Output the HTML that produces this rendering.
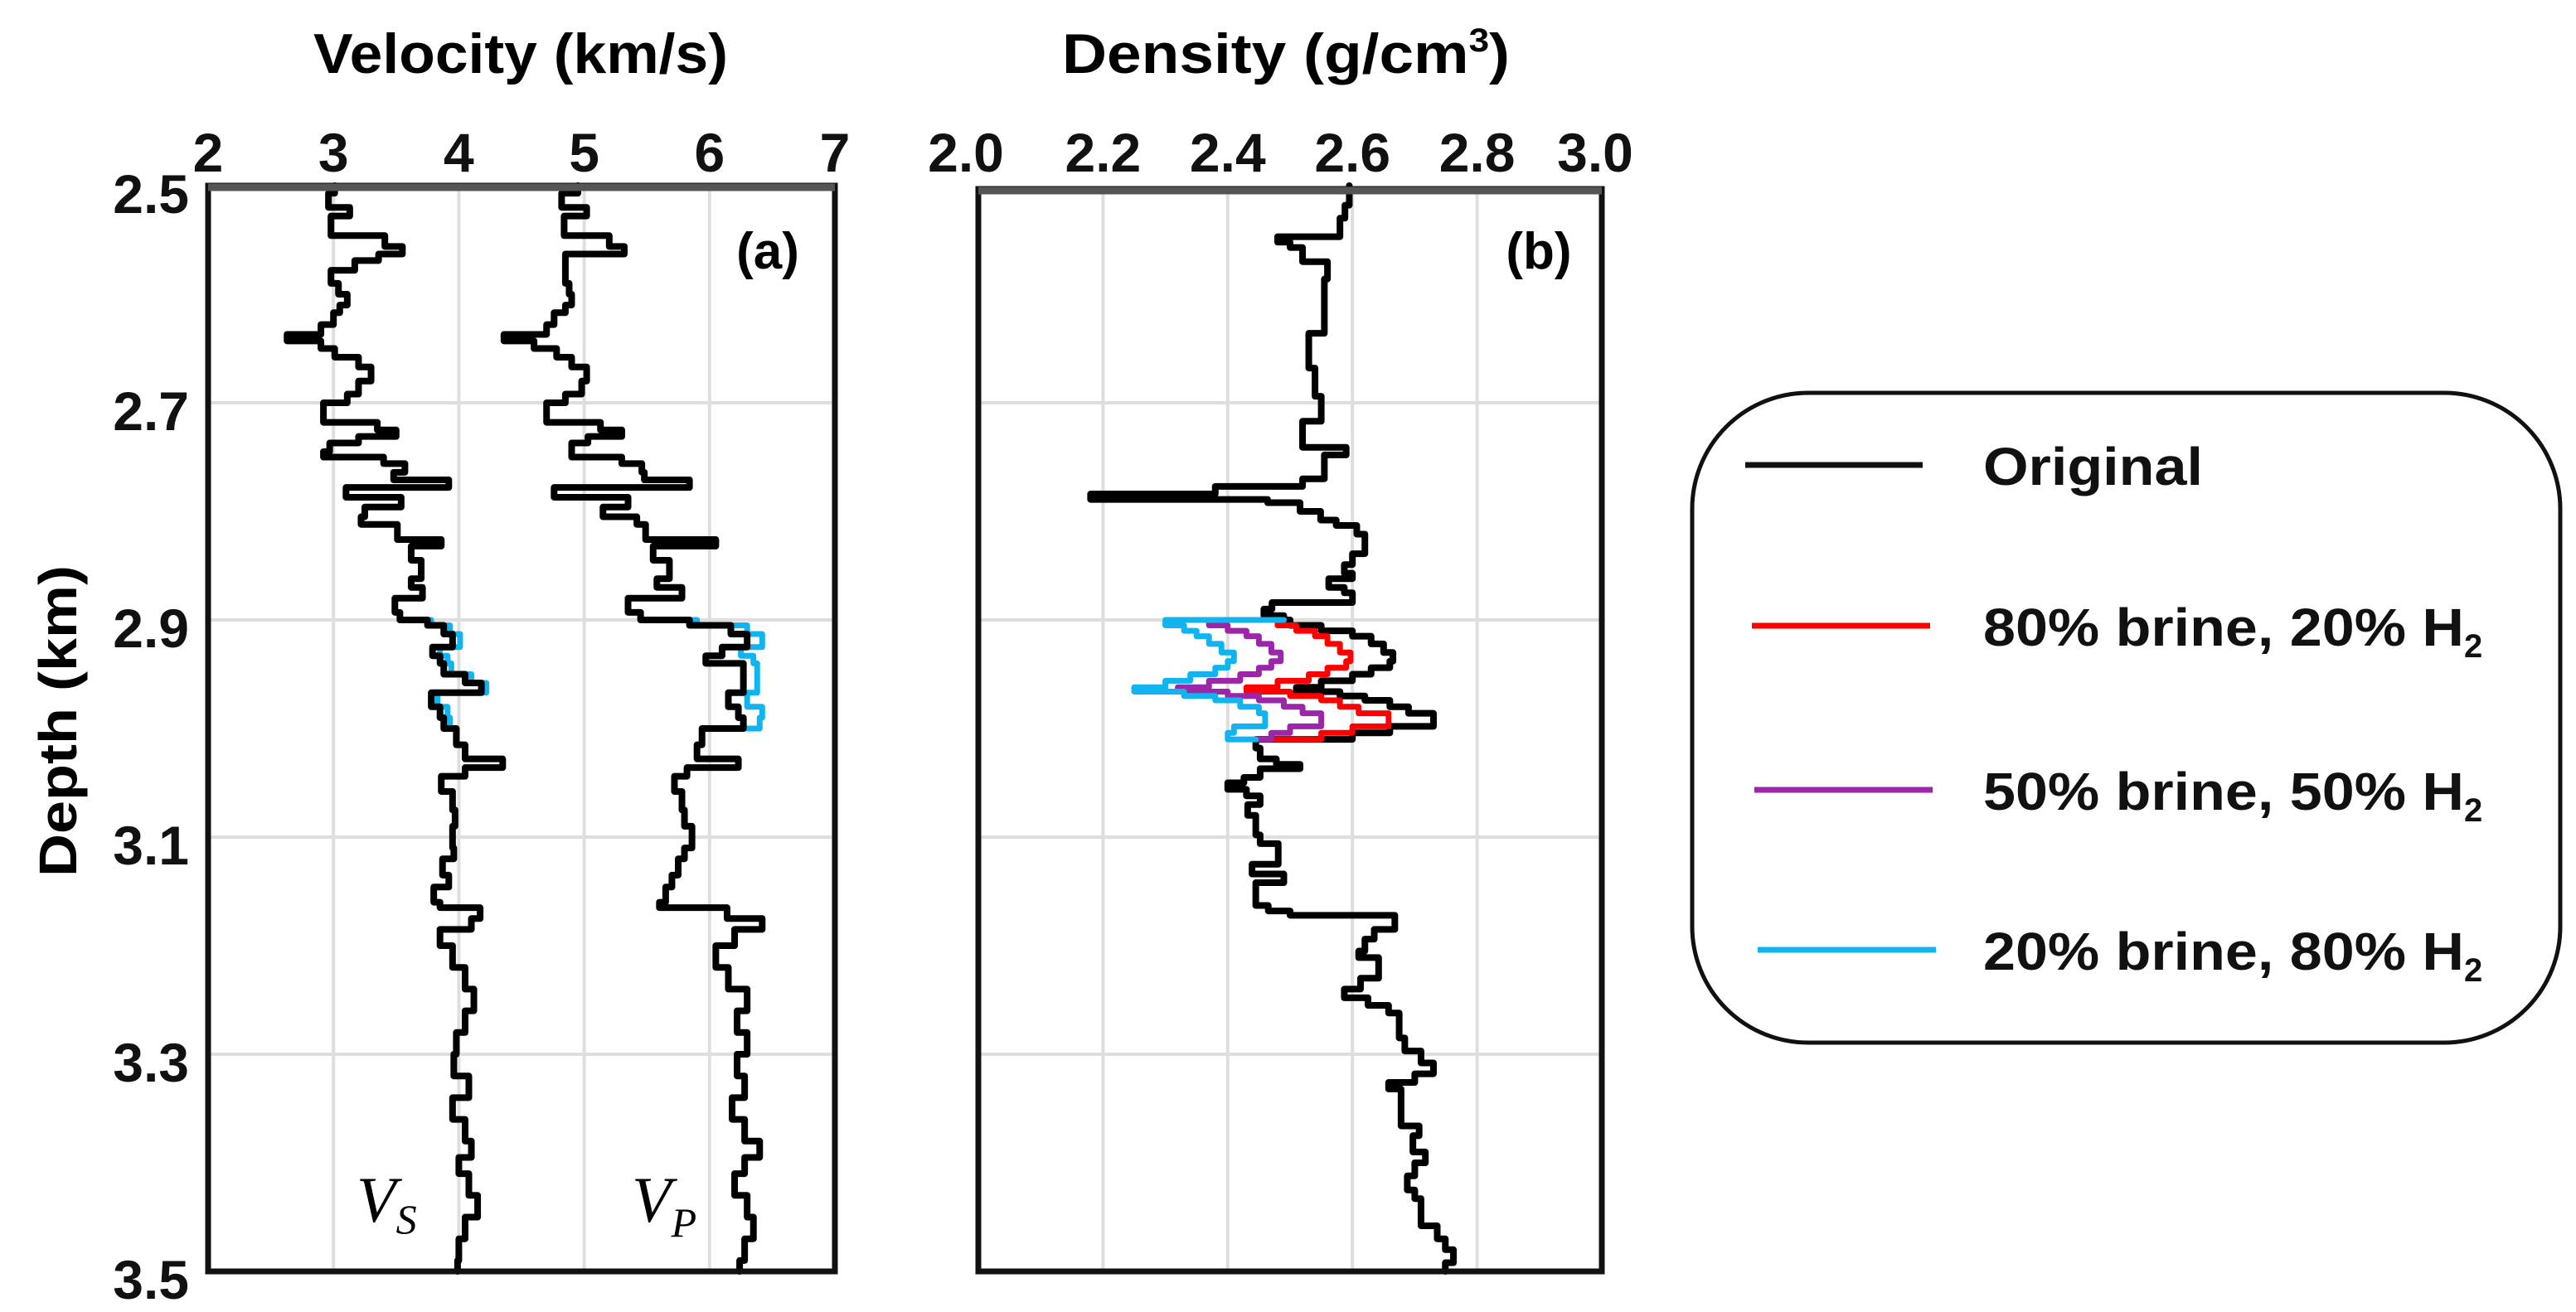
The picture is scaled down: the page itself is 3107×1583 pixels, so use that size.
<!DOCTYPE html>
<html><head><meta charset="utf-8"><style>
html,body{margin:0;padding:0;background:#fff;}
svg{display:block;font-family:"Liberation Sans",sans-serif;}
</style></head><body>
<svg id="chart" width="3107" height="1583" viewBox="0 0 3107 1583" xmlns="http://www.w3.org/2000/svg">
<rect x="0" y="0" width="3107" height="1583" fill="#fff"/>
<g id="gridA"></g>
<g id="gridB"></g>
<g id="marksA"></g>
<g id="marksB"></g>
<rect x="251" y="224" width="756" height="1310" fill="none" stroke="#111" stroke-width="7"/>
<line x1="251" y1="226" x2="1007" y2="226" stroke="#555" stroke-width="9"/>
<rect x="1180" y="228" width="752" height="1306" fill="none" stroke="#111" stroke-width="7"/>
<line x1="1180" y1="230" x2="1932" y2="230" stroke="#555" stroke-width="9"/>
<g id="ticks" font-weight="bold" font-size="66" fill="#111"></g>
<text x="628" y="88" text-anchor="middle" font-weight="bold" font-size="68" textLength="500" lengthAdjust="spacingAndGlyphs">Velocity (km/s)</text>
<text x="1551" y="88" text-anchor="middle" font-weight="bold" font-size="68" textLength="540" lengthAdjust="spacingAndGlyphs">Density (g/cm<tspan font-size="40" dy="-26">3</tspan><tspan dy="26">)</tspan></text>
<text transform="translate(92,870) rotate(-90)" text-anchor="middle" font-weight="bold" font-size="64" textLength="376" lengthAdjust="spacingAndGlyphs">Depth (km)</text>
<text x="926" y="324" text-anchor="middle" font-size="62" font-weight="bold">(a)</text>
<text x="1856" y="324" text-anchor="middle" font-size="62" font-weight="bold">(b)</text>
<text x="430" y="1474" font-family="Liberation Serif,serif" font-style="italic" font-size="78">V<tspan font-size="50" dy="14">S</tspan></text>
<text x="762" y="1474" font-family="Liberation Serif,serif" font-style="italic" font-size="78">V<tspan font-size="50" dy="18">P</tspan></text>
<g>
<rect x="2041" y="474" width="1047" height="784" rx="140" fill="#fff" stroke="#111" stroke-width="5"/>
<line x1="2105" y1="561" x2="2319" y2="561" stroke="#111" stroke-width="7"/>
<line x1="2113" y1="755" x2="2328" y2="755" stroke="#ff0000" stroke-width="7"/>
<line x1="2116" y1="953" x2="2331" y2="953" stroke="#9b27a8" stroke-width="7"/>
<line x1="2120" y1="1146" x2="2335" y2="1146" stroke="#12b4f0" stroke-width="7"/>
<g font-weight="bold" font-size="64" fill="#111">
<text x="2392" y="585" textLength="265" lengthAdjust="spacingAndGlyphs">Original</text>
<text x="2392" y="779"><tspan textLength="580" lengthAdjust="spacingAndGlyphs">80% brine, 20% H</tspan><tspan font-size="40" dy="14">2</tspan></text>
<text x="2392" y="977"><tspan textLength="580" lengthAdjust="spacingAndGlyphs">50% brine, 50% H</tspan><tspan font-size="40" dy="14">2</tspan></text>
<text x="2392" y="1170"><tspan textLength="580" lengthAdjust="spacingAndGlyphs">20% brine, 80% H</tspan><tspan font-size="40" dy="14">2</tspan></text>
</g></g>
</svg>
<script>
const depthTicks=["2.5","2.7","2.9","3.1","3.3","3.5"];
const velTicks=["2","3","4","5","6","7"];
const denTicks=["2.0","2.2","2.4","2.6","2.8","3.0"];
const logDepth=[2.500,2.507,2.520,2.528,2.546,2.556,2.563,2.569,2.578,2.590,2.600,2.610,2.617,2.628,2.637,2.643,2.650,2.658,2.667,2.680,2.692,2.700,2.718,2.725,2.731,2.737,2.745,2.750,2.756,2.764,2.771,2.778,2.787,2.796,2.805,2.812,2.826,2.832,2.845,2.862,2.870,2.880,2.893,2.900,2.905,2.913,2.925,2.933,2.940,2.950,2.958,2.967,2.980,2.990,3.000,3.015,3.028,3.036,3.044,3.058,3.075,3.090,3.110,3.120,3.135,3.146,3.160,3.165,3.175,3.185,3.200,3.220,3.240,3.260,3.280,3.300,3.320,3.340,3.360,3.380,3.395,3.410,3.430,3.450,3.470,3.490];
const vsOrig=[3.01,2.96,3.13,2.98,3.41,3.55,3.36,3.17,2.98,3.04,3.11,3.05,3.00,2.90,2.63,2.90,3.01,3.20,3.30,3.20,3.11,2.92,3.35,3.50,3.20,2.97,2.92,3.40,3.57,3.48,3.92,3.10,3.54,3.25,3.22,3.51,3.86,3.62,3.70,3.62,3.71,3.49,3.53,3.75,3.88,3.95,3.79,3.85,3.88,4.05,4.18,3.78,3.85,3.88,3.98,4.05,4.35,4.05,3.86,3.95,3.97,3.95,3.96,3.87,3.92,3.80,3.85,4.17,4.10,3.85,3.95,4.05,4.12,4.05,3.98,3.96,4.08,3.95,4.05,4.10,4.00,4.08,4.15,4.05,4.00,3.99];
const vpOrig=[4.95,4.82,5.02,4.84,5.20,5.32,4.85,4.85,4.85,4.88,4.90,4.85,4.76,4.70,4.36,4.60,4.78,4.90,5.02,4.98,4.85,4.70,5.13,5.30,5.03,4.90,4.90,5.30,5.46,5.48,5.84,4.76,5.35,5.15,5.42,5.49,6.05,5.55,5.68,5.58,5.78,5.35,5.45,5.84,6.17,6.30,6.10,5.97,6.27,6.27,6.27,6.15,6.23,6.27,5.94,5.90,6.23,5.82,5.72,5.78,5.80,5.86,5.80,5.75,5.70,5.65,5.60,6.14,6.42,6.20,6.05,6.15,6.30,6.22,6.30,6.22,6.28,6.18,6.28,6.40,6.28,6.20,6.30,6.35,6.28,6.24];
const zoneVelDepth=[2.900,2.905,2.913,2.925,2.933,2.940,2.950,2.958,2.967,2.980,2.990,3.000];
const vsH2=[3.78,3.93,4.01,3.85,3.91,3.94,4.10,4.22,3.83,3.91,3.93];
const vpH2=[5.90,6.30,6.42,6.25,6.35,6.38,6.38,6.38,6.30,6.42,6.40];
const denDepth=[2.500,2.518,2.530,2.547,2.552,2.557,2.570,2.586,2.636,2.668,2.694,2.717,2.741,2.748,2.770,2.777,2.784,2.789,2.792,2.800,2.808,2.813,2.821,2.839,2.849,2.857,2.862,2.870,2.875,2.884,2.890,2.896,
2.900,2.905,2.910,2.915,2.922,2.930,2.938,2.944,2.950,2.956,2.962,2.966,2.970,2.974,2.980,2.986,2.992,2.998,3.004,
3.010,3.018,3.028,3.033,3.037,3.045,3.050,3.056,3.062,3.070,3.080,3.098,3.106,3.125,3.134,3.142,3.163,3.168,3.172,3.185,3.194,3.205,3.211,3.230,3.240,3.248,3.255,3.262,3.285,3.297,3.308,3.318,3.326,3.332,3.366,3.375,3.390,3.400,3.412,3.425,3.433,3.458,3.470,3.480,3.492];
const denOrig=[2.595,2.588,2.580,2.48,2.50,2.52,2.56,2.555,2.53,2.54,2.55,2.52,2.59,2.555,2.52,2.38,2.18,2.464,2.516,2.549,2.574,2.607,2.62,2.60,2.587,2.60,2.562,2.587,2.60,2.471,2.458,2.49,
2.50,2.55,2.60,2.63,2.65,2.665,2.66,2.63,2.60,2.55,2.51,2.58,2.62,2.66,2.69,2.73,2.73,2.66,2.60,
2.445,2.452,2.478,2.516,2.452,2.426,2.40,2.43,2.452,2.432,2.445,2.452,2.481,2.439,2.49,2.445,2.465,2.50,2.668,2.635,2.62,2.61,2.642,2.613,2.587,2.625,2.658,2.675,2.684,2.71,2.73,2.70,2.658,2.678,2.707,2.697,2.717,2.70,2.688,2.70,2.71,2.736,2.749,2.762,2.749];
const zoneDenDepth=[2.900,2.905,2.910,2.915,2.922,2.930,2.938,2.944,2.950,2.956,2.962,2.966,2.970,2.974,2.980,2.986,2.992,2.998,3.004,3.010];
const den80=[2.48,2.51,2.54,2.56,2.58,2.597,2.59,2.56,2.53,2.48,2.43,2.50,2.55,2.58,2.61,2.658,2.658,2.60,2.55];
const den50=[2.37,2.40,2.43,2.45,2.47,2.485,2.47,2.45,2.42,2.37,2.32,2.40,2.45,2.49,2.52,2.55,2.55,2.50,2.47];
const den20=[2.30,2.33,2.35,2.37,2.39,2.41,2.40,2.38,2.34,2.30,2.25,2.33,2.38,2.42,2.45,2.46,2.46,2.41,2.40];

const NS="http://www.w3.org/2000/svg";
const yAx=d=>224+(d-2.5)*1310;
const xVel=v=>251+(v-2)*151.2;
const xDen=v=>1180+(v-2)*752;
function mk(tag,attrs,parent){const e=document.createElementNS(NS,tag);for(const k in attrs)e.setAttribute(k,attrs[k]);parent.appendChild(e);return e;}
function stepPath(dep,val,end,xf,startVal,endVal){
  let p="";
  if(startVal!==undefined){p+="M"+xf(startVal)+","+yAx(dep[0])+" H"+xf(val[0]);}
  else p+="M"+xf(val[0])+","+yAx(dep[0]);
  for(let i=1;i<val.length;i++){p+=" V"+yAx(dep[i])+" H"+xf(val[i]);}
  p+=" V"+yAx(end);
  if(endVal!==undefined)p+=" H"+xf(endVal);
  return p;
}
const gA=document.getElementById('gridA'),gB=document.getElementById('gridB');
const tk=document.getElementById('ticks');
depthTicks.forEach((t,i)=>{
  const d=parseFloat(t),y=yAx(d);
  if(i>0&&i<depthTicks.length-1){
    const l1=mk('line',{x1:251,x2:1007,y1:y,y2:y,stroke:'#dedede','stroke-width':4},gA);
    
    
    const l2=mk('line',{x1:1180,x2:1932,y1:y,y2:y,stroke:'#dedede','stroke-width':4},gB);
    
    
  }
  const tx=mk('text',{x:228,y:y+33,'text-anchor':'end'},tk);tx.textContent=t;
  
  
});
velTicks.forEach((t,i)=>{
  const v=parseFloat(t),x=xVel(v);
  if(i>0&&i<velTicks.length-1){
    const l=mk('line',{x1:x,x2:x,y1:224,y2:1534,stroke:'#dedede','stroke-width':4},gA);
    
    
  }
  const tx=mk('text',{x:x,y:207,'text-anchor':'middle'},tk);tx.textContent=t;
  
  
});
denTicks.forEach((t,i)=>{
  const v=parseFloat(t),x=xDen(v);
  if(i>0&&i<denTicks.length-1){
    const l=mk('line',{x1:x,x2:x,y1:228,y2:1534,stroke:'#dedede','stroke-width':4},gB);
    
    
  }
  const tx=mk('text',{x:x+(i==0?-15:(i==denTicks.length-1?-8:0)),y:207,'text-anchor':'middle'},tk);tx.textContent=t;
  
  
});
const mA=document.getElementById('marksA'),mB=document.getElementById('marksB');
function line(par,d,col,w,name){
  const p=mk('path',{d:d,fill:'none',stroke:col,'stroke-width':w,'stroke-linejoin':'round','stroke-linecap':'round'},par);
  
  
}
const zi=logDepth.indexOf(2.900), ze=logDepth.indexOf(3.000);
line(mA,stepPath(zoneVelDepth,vsH2,3.000,xVel,vsOrig[zi-1],vsOrig[ze]),'#12b4f0',7,'vs-20-brine-line');
line(mA,stepPath(zoneVelDepth,vpH2,3.000,xVel,vpOrig[zi-1],vpOrig[ze]),'#12b4f0',7,'vp-20-brine-line');
line(mA,stepPath(logDepth,vsOrig,3.5,xVel),'#000',8,'vs-original-line');
line(mA,stepPath(logDepth,vpOrig,3.5,xVel),'#000',8,'vp-original-line');
line(mB,stepPath(denDepth,denOrig,3.5,xDen),'#000',8,'density-original-line');
const dzi=denDepth.indexOf(2.900), dze=denDepth.indexOf(3.010);
line(mB,stepPath(zoneDenDepth,den80,3.010,xDen,denOrig[dzi-1],denOrig[dze]),'#ff0000',7,'density-80-brine-line');
line(mB,stepPath(zoneDenDepth,den50,3.010,xDen,denOrig[dzi-1],denOrig[dze]),'#9b27a8',7,'density-50-brine-line');
line(mB,stepPath(zoneDenDepth,den20,3.010,xDen,denOrig[dzi-1],denOrig[dze]),'#12b4f0',7,'density-20-brine-line');
</script>
</body></html>
